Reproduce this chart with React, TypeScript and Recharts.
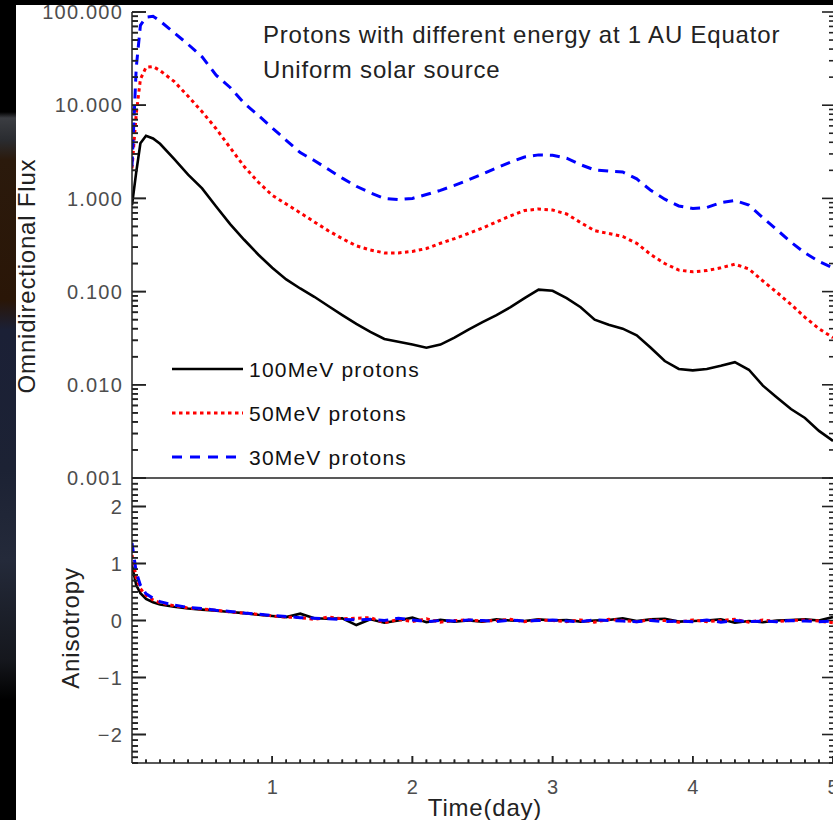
import React from 'react';
import { LineChart, Line, XAxis, YAxis, Legend, ReferenceLine } from 'recharts';

// ---------------- data ----------------
const DAYS = [0, 0.03, 0.06, 0.1, 0.15, 0.2, 0.3, 0.4, 0.5, 0.6, 0.7, 0.8, 0.9, 1.0, 1.1, 1.2, 1.3, 1.4, 1.5, 1.6, 1.7, 1.8, 1.9, 2.0, 2.1, 2.2, 2.3, 2.4, 2.5, 2.6, 2.7, 2.8, 2.9, 3.0, 3.1, 3.2, 3.3, 3.4, 3.5, 3.6, 3.7, 3.8, 3.9, 4.0, 4.1, 4.2, 4.3, 4.4, 4.5, 4.6, 4.7, 4.8, 4.9, 5.0];

const FLUX_100 = [0.85, 1.9, 3.9, 4.7, 4.4, 3.85, 2.65, 1.8, 1.28, 0.82, 0.53, 0.36, 0.25, 0.18, 0.135, 0.108, 0.088, 0.070, 0.056, 0.045, 0.037, 0.031, 0.029, 0.027, 0.025, 0.027, 0.032, 0.039, 0.047, 0.056, 0.068, 0.085, 0.105, 0.102, 0.085, 0.068, 0.050, 0.044, 0.040, 0.034, 0.025, 0.018, 0.0148, 0.0143, 0.0148, 0.016, 0.0175, 0.0145, 0.0098, 0.0073, 0.0055, 0.0044, 0.0032, 0.0025];
const FLUX_50 = [2.1, 8, 19, 25.5, 26, 23.5, 18, 12.5, 8.5, 5.6, 3.5, 2.2, 1.5, 1.08, 0.87, 0.70, 0.56, 0.45, 0.37, 0.31, 0.28, 0.26, 0.26, 0.27, 0.29, 0.33, 0.37, 0.42, 0.48, 0.56, 0.65, 0.74, 0.77, 0.75, 0.68, 0.55, 0.45, 0.42, 0.39, 0.33, 0.25, 0.20, 0.17, 0.163, 0.168, 0.18, 0.197, 0.175, 0.13, 0.098, 0.073, 0.053, 0.040, 0.032];
const FLUX_30 = [2.2, 25, 72, 88, 90, 80, 60, 45, 33, 21, 15.5, 10.5, 7.8, 5.7, 4.2, 3.1, 2.55, 2.05, 1.65, 1.35, 1.15, 1.0, 0.97, 1.0, 1.1, 1.22, 1.38, 1.58, 1.82, 2.12, 2.45, 2.78, 2.93, 2.9, 2.7, 2.3, 2.02, 1.96, 1.92, 1.62, 1.22, 0.98, 0.83, 0.78, 0.80, 0.90, 0.95, 0.85, 0.62, 0.46, 0.34, 0.26, 0.21, 0.18];

const ANIS_100 = [0.97, 0.62, 0.48, 0.38, 0.32, 0.28, 0.24, 0.21, 0.19, 0.17, 0.15, 0.13, 0.10, 0.08, 0.06, 0.12, 0.04, 0.03, 0.04, -0.08, 0.02, -0.04, 0.0, 0.05, -0.03, 0.01, -0.02, 0.0, -0.02, 0.02, 0.0, -0.01, 0.02, 0.0, 0.01, -0.02, 0.0, 0.01, 0.04, -0.01, 0.02, 0.03, -0.02, -0.01, 0.0, 0.02, -0.04, -0.01, -0.03, 0.0, 0.01, 0.02, 0.0, 0.06];
const ANIS_50 = [1.15, 0.75, 0.56, 0.44, 0.36, 0.31, 0.26, 0.22, 0.20, 0.18, 0.15, 0.13, 0.11, 0.08, 0.06, 0.05, 0.02, 0.06, 0.03, 0.04, 0.05, -0.04, 0.02, -0.02, 0.03, -0.03, 0.0, 0.01, -0.01, 0.0, 0.02, -0.02, 0.01, 0.0, -0.02, 0.01, -0.03, 0.02, 0.0, -0.02, 0.01, 0.0, -0.03, 0.01, -0.02, 0.0, 0.02, -0.03, 0.01, -0.02, 0.0, 0.01, -0.01, -0.04];
const ANIS_30 = [1.36, 0.85, 0.62, 0.47, 0.39, 0.33, 0.27, 0.23, 0.21, 0.18, 0.16, 0.13, 0.11, 0.09, 0.07, 0.05, 0.04, 0.03, 0.02, 0.01, 0.02, 0.0, 0.04, 0.01, -0.02, 0.0, -0.01, 0.01, 0.0, -0.02, 0.01, -0.01, 0.0, 0.01, -0.01, -0.02, 0.01, 0.0, -0.01, -0.02, 0.0, -0.02, -0.01, -0.02, 0.01, -0.03, 0.0, -0.02, -0.01, -0.02, 0.0, -0.01, -0.02, -0.01];

const SERIES_NAMES = ['100MeV protons', '50MeV protons', '30MeV protons'];

const FLUX_MAJOR_TICKS = [0.001, 0.01, 0.1, 1, 10, 100];
const FLUX_TICK_LABELS = ['0.001', '0.010', '0.100', '1.000', '10.000', '100.000'];
const ANIS_MAJOR_TICKS = [-2, -1, 0, 1, 2];
const ANIS_TICK_LABELS = ['\u22122', '\u22121', '0', '1', '2'];
const DAY_MAJOR_TICKS = [1, 2, 3, 4, 5];
const DAY_TICK_LABELS = ['1', '2', '3', '4', '5'];

const TITLE_LINES = ['Protons with different energy at 1 AU Equator', 'Uniform solar source'];
const Y_TITLE_TOP = 'Omnidirectional Flux';
const Y_TITLE_BOTTOM = 'Anisotropy';
const X_TITLE = 'Time(day)';

// ---------------- tick positions (minor + major) ----------------
const FLUX_ALL_TICKS: number[] = [];
for (let e = -3; e <= 1; e++) {
  for (let m = 1; m <= 9; m++) FLUX_ALL_TICKS.push(parseFloat((m * Math.pow(10, e)).toPrecision(6)));
}
FLUX_ALL_TICKS.push(100);
const ANIS_ALL_TICKS: number[] = [];
for (let i = -25; i <= 25; i++) ANIS_ALL_TICKS.push(i / 10);
const DAY_ALL_TICKS: number[] = [];
for (let i = 1; i <= 50; i++) DAY_ALL_TICKS.push(i / 10);

const fluxData = DAYS.map((d, i) => ({ day: d, f100: FLUX_100[i], f50: FLUX_50[i], f30: FLUX_30[i] }));
const anisData = DAYS.map((d, i) => ({ day: d, a100: ANIS_100[i], a50: ANIS_50[i], a30: ANIS_30[i] }));

// ---------------- styles ----------------
const FONT = '"Liberation Sans", Arial, Helvetica, sans-serif';
const AXIS_COLOR = '#222222';
const TICK_TEXT = '#4d4d4d';
const COLORS = ['#000000', '#ff0000', '#0000ff'];
const DASHES = [undefined, '3.5 3.5', '10 7'];
const LEGEND_DASHES = [undefined, '3.5 3.5', '10 8'];
const WIDTHS = [2.6, 3, 3];
const TICK_W = 1.6;

const majorIndex = (majors: number[], v: number) =>
  majors.findIndex((m) => (m === 0 ? Math.abs(v) < 1e-9 : Math.abs(m - v) <= 1e-6 * Math.abs(m)));

// left axis tick (element form): inward mark + label outside
const LeftTick = (props: any) => {
  const { x, y, payload, majors, labels, majorLen, minorLen } = props;
  const idx = majorIndex(majors, payload.value);
  const major = idx >= 0;
  const xx = Number(x), yy = Number(y);
  return (
    <g>
      <path d={`M${xx},${yy}H${xx + (major ? majorLen : minorLen)}`} stroke={AXIS_COLOR} strokeWidth={TICK_W} fill="none" />
      {major && (
        <text x={xx - 9} y={yy} dy="0.36em" textAnchor="end" fontFamily={FONT} fontSize={20} letterSpacing={1.2} fill={TICK_TEXT}>
          {labels[idx]}
        </text>
      )}
    </g>
  );
};

// bottom axis tick (element form)
const BottomTick = (props: any) => {
  const { x, y, payload } = props;
  const idx = majorIndex(DAY_MAJOR_TICKS, payload.value);
  const major = idx >= 0;
  const xx = Number(x), yy = Number(y);
  return (
    <g>
      <path d={`M${xx},${yy}V${yy - (major ? 7 : 3.5)}`} stroke={AXIS_COLOR} strokeWidth={TICK_W} fill="none" />
      {major && (
        <text x={xx} y={yy + 31} textAnchor="middle" fontFamily={FONT} fontSize={20} fill={TICK_TEXT}>
          {DAY_TICK_LABELS[idx]}
        </text>
      )}
    </g>
  );
};

// right-edge inward marks from reference-line geometry
const RightMark = (props: any) => {
  const a = Number(props.x1), b = Number(props.x2), y = Number(props.y1);
  const len = Number(props.len);
  if (!isFinite(a) || !isFinite(b) || !isFinite(y)) return <g />;
  const xr = Math.max(a, b);
  return <path d={`M${xr},${y}H${xr - len}`} stroke={AXIS_COLOR} strokeWidth={TICK_W} fill="none" />;
};
// left-edge inward marks: segment ends on the left axis, mark drawn inward from there
const LeftMark = (props: any) => {
  const a = Number(props.x1), b = Number(props.x2), y = Number(props.y1);
  const len = Number(props.len);
  if (!isFinite(a) || !isFinite(b) || !isFinite(y)) return <g />;
  const xr = Math.max(a, b);
  return <path d={`M${xr},${y}H${xr + len}`} stroke={AXIS_COLOR} strokeWidth={TICK_W} fill="none" />;
};
// bottom-edge inward marks: segment ends on the bottom axis, mark drawn upward from there
const BottomMark = (props: any) => {
  const a = Number(props.y1), b = Number(props.y2), x = Number(props.x1);
  const len = Number(props.len);
  if (!isFinite(a) || !isFinite(b) || !isFinite(x)) return <g />;
  const yt = Math.min(a, b);
  return <path d={`M${x},${yt}V${yt - len}`} stroke={AXIS_COLOR} strokeWidth={TICK_W} fill="none" />;
};

const FluxLegend = () => (
  <svg width={320} height={130} style={{ display: 'block' }}>
    {SERIES_NAMES.map((name, i) => {
      const yy = 19 + i * 44;
      return (
        <g key={name}>
          <line x1={12} x2={83} y1={yy} y2={yy} stroke={COLORS[i]} strokeWidth={WIDTHS[i]} strokeDasharray={LEGEND_DASHES[i]} />
          <text x={89} y={yy} dy="0.36em" fontFamily={FONT} fontSize={21} letterSpacing={1.2} fill="#111">
            {name}
          </text>
        </g>
      );
    })}
  </svg>
);

const TOTAL_W = 833;
const TOTAL_H = 820;
const STRIP =
  'linear-gradient(to bottom, #000 0px, #000 112px, #3b3d42 118px, #2a2c30 140px, #2b1a0c 160px, #2a1607 300px, #1b2036 330px, #1c2234 470px, #242a3a 560px, #15171d 660px, #000 700px, #000 820px)';

export default function App() {
  return (
    <div
      style={{
        position: 'relative',
        width: TOTAL_W,
        height: TOTAL_H,
        overflow: 'hidden',
        background: `linear-gradient(#fff, #fff) 16px 5px / ${TOTAL_W - 16}px ${TOTAL_H - 5}px no-repeat, ${STRIP} 0px 0px / 16px ${TOTAL_H}px no-repeat, #000`,
      }}
    >
      <style>{'body{margin:0;overflow:hidden;background:#000}'}</style>

      {/* ---------- upper panel: omnidirectional flux ---------- */}
      <LineChart width={TOTAL_W} height={500} data={fluxData} margin={{ top: 12, right: 0, bottom: 22, left: 0 }}>
        <XAxis dataKey="day" type="number" domain={[0, 5]} allowDataOverflow hide />
        <YAxis
          type="number" scale="log" domain={[0.001, 100]} allowDataOverflow
          ticks={FLUX_ALL_TICKS} interval={0} width={132}
          tickSize={0} tickMargin={0} tickLine={false}
          axisLine={{ stroke: AXIS_COLOR, strokeWidth: 1.5 }}
          tick={<LeftTick majors={FLUX_MAJOR_TICKS} labels={FLUX_TICK_LABELS} majorLen={14} minorLen={6} />}
        />
        {FLUX_ALL_TICKS.map((v) => (
          <ReferenceLine key={'fr' + v} y={v} ifOverflow="visible" shape={<RightMark len={majorIndex(FLUX_MAJOR_TICKS, v) >= 0 ? 11 : 4} />} />
        ))}
        {FLUX_ALL_TICKS.map((v) => (
          <ReferenceLine
            key={'fl' + v}
            segment={[{ x: -0.1, y: v }, { x: 0, y: v }]}
            ifOverflow="visible"
            shape={<LeftMark len={majorIndex(FLUX_MAJOR_TICKS, v) >= 0 ? 14 : 6} />}
          />
        ))}
        <Legend
          layout="vertical"
          align="center"
          verticalAlign="middle"
          content={<FluxLegend />}
          wrapperStyle={{ left: 160, top: 350, width: 320, height: 130 }}
        />
        <Line dataKey="f100" name={SERIES_NAMES[0]} type="linear" stroke={COLORS[0]} strokeWidth={WIDTHS[0]} dot={false} isAnimationActive={false} />
        <Line dataKey="f50" name={SERIES_NAMES[1]} type="linear" stroke={COLORS[1]} strokeWidth={WIDTHS[1]} strokeDasharray={DASHES[1]} dot={false} isAnimationActive={false} />
        <Line dataKey="f30" name={SERIES_NAMES[2]} type="linear" stroke={COLORS[2]} strokeWidth={WIDTHS[2]} strokeDasharray={DASHES[2]} dot={false} isAnimationActive={false} />
      </LineChart>

      {/* ---------- lower panel: anisotropy ---------- */}
      <div style={{ marginTop: -24 }}>
        <LineChart width={TOTAL_W} height={TOTAL_H - 476} data={anisData} margin={{ top: 1, right: 0, bottom: 0, left: 0 }}>
          <XAxis
            dataKey="day" type="number" domain={[0, 5]} allowDataOverflow
            ticks={DAY_ALL_TICKS} interval={0} height={57}
            tickSize={0} tickMargin={0} tickLine={false}
            axisLine={{ stroke: AXIS_COLOR, strokeWidth: 1.5 }}
            tick={<BottomTick />}
          />
          <XAxis
            xAxisId="sep" dataKey="day" type="number" orientation="top" domain={[0, 5]} allowDataOverflow
            height={1} tick={false} tickLine={false}
            axisLine={{ stroke: AXIS_COLOR, strokeWidth: 1.5 }}
          />
          <YAxis
            type="number" domain={[-2.5, 2.5]} allowDataOverflow
            ticks={ANIS_ALL_TICKS} interval={0} width={132}
            tickSize={0} tickMargin={0} tickLine={false}
            axisLine={{ stroke: AXIS_COLOR, strokeWidth: 1.5 }}
            tick={<LeftTick majors={ANIS_MAJOR_TICKS} labels={ANIS_TICK_LABELS} majorLen={14} minorLen={6} />}
          />
          {ANIS_ALL_TICKS.map((v) => (
            <ReferenceLine key={'ar' + v} y={v} ifOverflow="visible" shape={<RightMark len={majorIndex(ANIS_MAJOR_TICKS, v) >= 0 ? 11 : 4} />} />
          ))}
          {ANIS_ALL_TICKS.map((v) => (
            <ReferenceLine
              key={'al' + v}
              segment={[{ x: -0.1, y: v }, { x: 0, y: v }]}
              ifOverflow="visible"
              shape={<LeftMark len={majorIndex(ANIS_MAJOR_TICKS, v) >= 0 ? 14 : 6} />}
            />
          ))}
          {DAY_ALL_TICKS.map((v) => (
            <ReferenceLine
              key={'db' + v}
              segment={[{ x: v, y: -2.6 }, { x: v, y: -2.5 }]}
              ifOverflow="visible"
              shape={<BottomMark len={majorIndex(DAY_MAJOR_TICKS, v) >= 0 ? 7 : 3.5} />}
            />
          ))}
          <Line dataKey="a100" name={SERIES_NAMES[0]} type="linear" stroke={COLORS[0]} strokeWidth={WIDTHS[0]} dot={false} isAnimationActive={false} />
          <Line dataKey="a50" name={SERIES_NAMES[1]} type="linear" stroke={COLORS[1]} strokeWidth={WIDTHS[1]} strokeDasharray={DASHES[1]} dot={false} isAnimationActive={false} />
          <Line dataKey="a30" name={SERIES_NAMES[2]} type="linear" stroke={COLORS[2]} strokeWidth={WIDTHS[2]} strokeDasharray={DASHES[2]} dot={false} isAnimationActive={false} />
        </LineChart>
      </div>

      <svg width={TOTAL_W} height={TOTAL_H} style={{ position: 'absolute', left: 0, top: 0, pointerEvents: 'none' }}>
        <text x={263} y={43} fontFamily={FONT} fontSize={24} letterSpacing={0.8} fill="#222">{TITLE_LINES[0]}</text>
        <text x={263} y={78} fontFamily={FONT} fontSize={24} letterSpacing={0.8} fill="#222">{TITLE_LINES[1]}</text>
        <text transform="translate(35,276) rotate(-90)" textAnchor="middle" fontFamily={FONT} fontSize={24} letterSpacing={0.8} fill="#222">{Y_TITLE_TOP}</text>
        <text transform="translate(79,628) rotate(-90)" textAnchor="middle" fontFamily={FONT} fontSize={24} letterSpacing={0.8} fill="#222">{Y_TITLE_BOTTOM}</text>
        <text x={485} y={816} textAnchor="middle" fontFamily={FONT} fontSize={24} letterSpacing={0.8} fill="#222">{X_TITLE}</text>
      </svg>
    </div>
  );
}
